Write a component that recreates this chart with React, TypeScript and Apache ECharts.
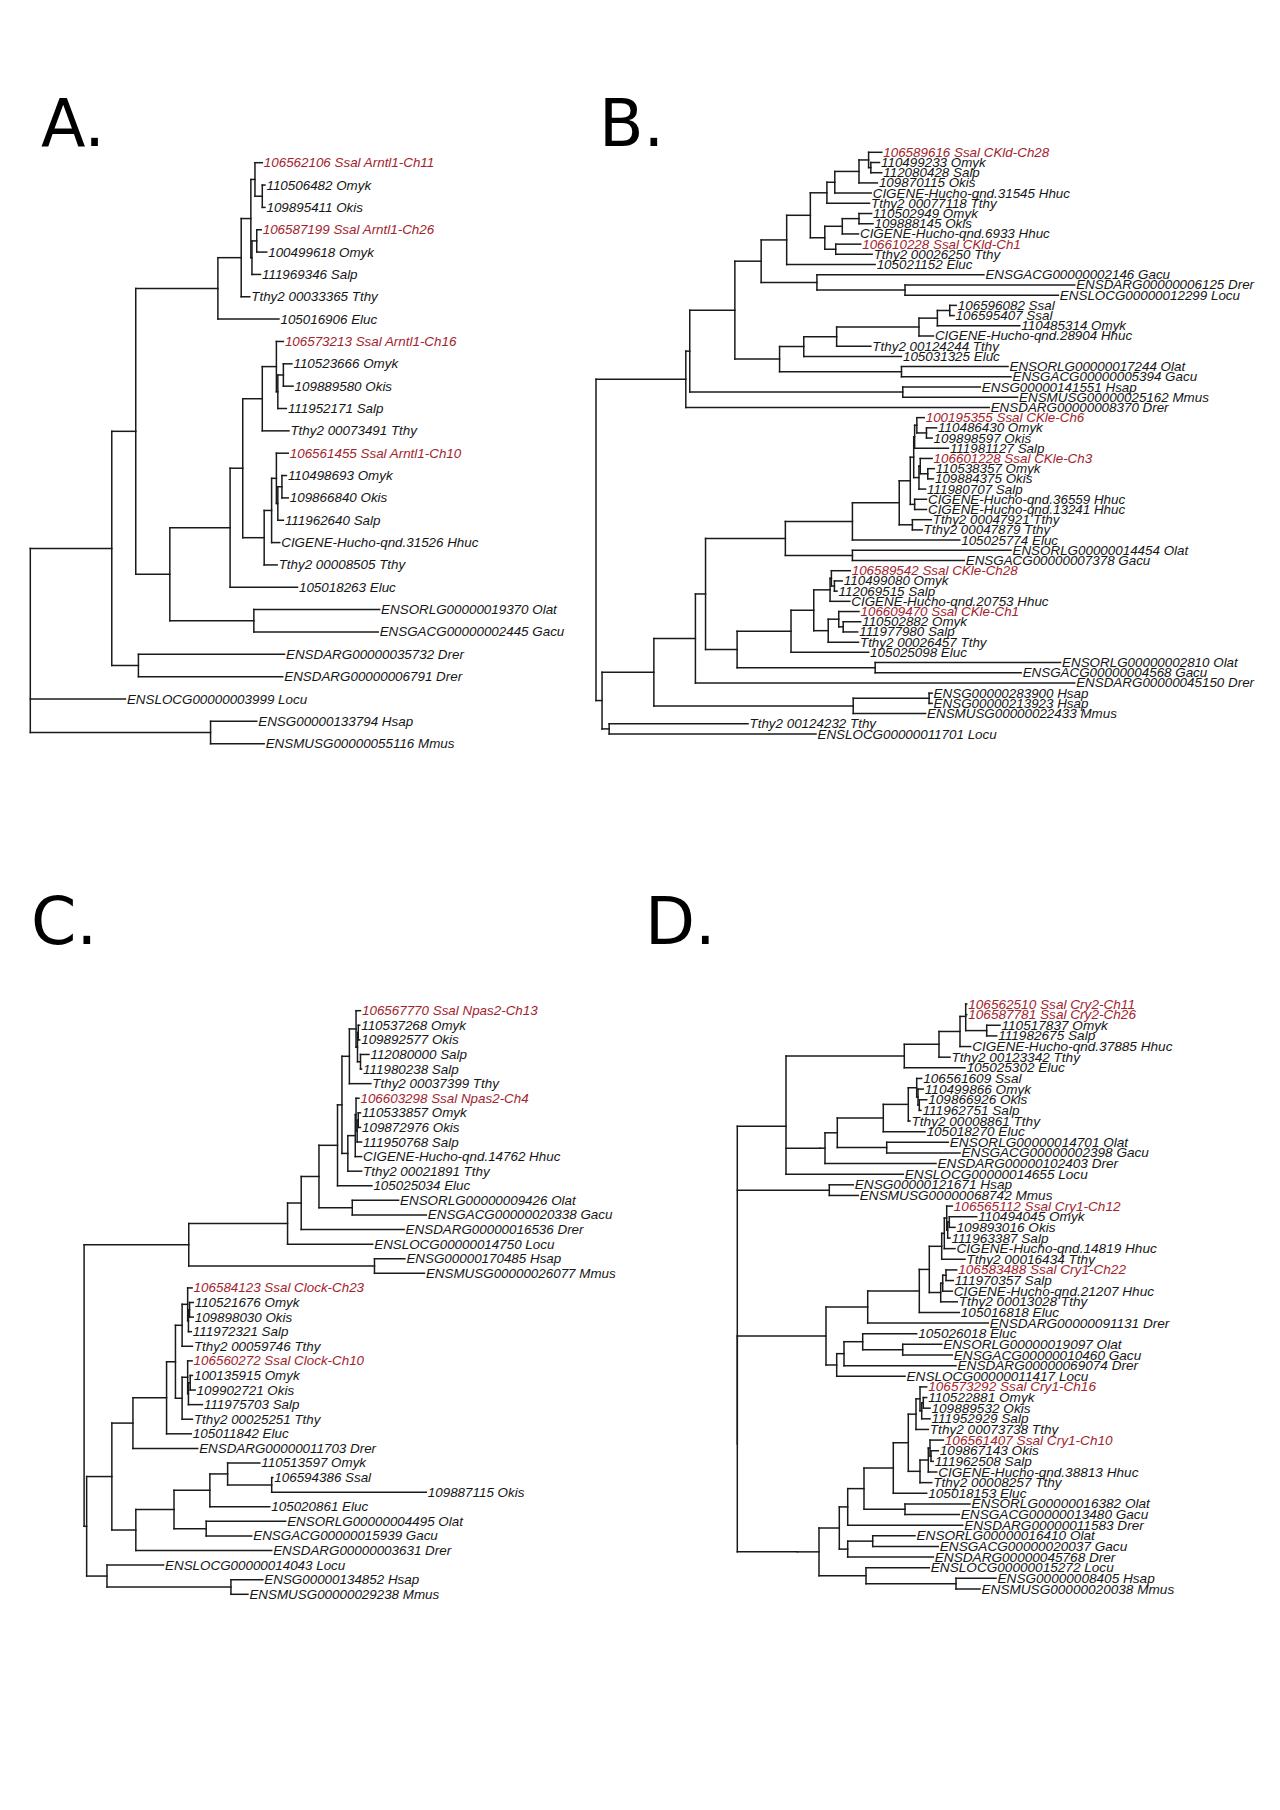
import React, { useEffect, useRef } from "react";
import * as echarts from "echarts";

// Trees in Newick-like notation. The number after ":" is the node depth
// (distance from the root of its tree), not the branch length.

// ---------- Tree A (Arntl1) ----------
const A_A1 = "(106562106 Ssal Arntl1-Ch11:2.090,(110506482 Omyk:2.114,109895411 Okis:2.114):2.090):2.024";
const A_A2 = "((106587199 Ssal Arntl1-Ch26:2.080,100499618 Omyk:2.130):2.040,111969346 Salp:2.074):1.997";
const A_P = `(((${A_A1},${A_A2}):1.987,Tthy2 00033365 Tthy:1.977):1.900,105016906 Eluc:2.240):1.690`;
const A_T = "((106573213 Ssal Arntl1-Ch16:2.280,((110523666 Omyk:2.357,109889580 Okis:2.367):2.280,111952171 Salp:2.307):2.230):2.217,Tthy2 00073491 Tthy:2.330):2.090";
const A_U = "(((106561455 Ssal Arntl1-Ch10:2.324,((110498693 Omyk:2.307,109866840 Okis:2.324):2.267,111962640 Salp:2.280):2.230):2.217,CIGENE-Hucho-qnd.31526 Hhuc:2.247):2.174,Tthy2 00008505 Tthy:2.224):2.107";
const A_Q = `(((${A_T},${A_U}):1.914,105018263 Eluc:2.407):1.800,(ENSORLG00000019370 Olat:3.147,ENSGACG00000002445 Gacu:3.134):2.014):1.257`;
const TREE_A = `((((${A_P},${A_Q}):0.950,(ENSDARG00000035732 Drer:2.290,ENSDARG00000006791 Drer:2.274):0.974):0.734,ENSLOCG00000003999 Locu:0.857,(ENSG00000133794 Hsap:2.040,ENSMUSG00000055116 Mmus:2.107):1.624):0`;

// ---------- Tree B (CK1 delta / epsilon) ----------
const B_a4 = "((((106589616 Ssal CKld-Ch28:2.173,(110499233 Omyk:2.156,112080428 Salp:2.173):2.090):2.073,109870115 Okis:2.140):2.000,CIGENE-Hucho-qnd.31545 Hhuc:2.093):1.816,Tthy2 00077118 Tthy:2.080):1.756";
const B_b4 = "(((110502949 Omyk:2.096,109888145 Okis:2.106):2.000,CIGENE-Hucho-qnd.6933 Hhuc:1.996):1.873,(106610228 Ssal CKld-Ch1:2.013,Tthy2 00026250 Tthy:2.100):1.823):1.740";
const B_c3 = `(((${B_a4},${B_b4}):1.630,105021152 Eluc:2.123):1.450,(ENSGACG00000002146 Gacu:2.950,(ENSDARG00000006125 Drer:3.640,ENSLOCG00000012299 Locu:3.516):2.350):1.680):1.256`;
const B_d6 = "((((((106596082 Ssal:2.740,106595407 Ssal:2.723):2.690,110485314 Omyk:3.223):2.596,CIGENE-Hucho-qnd.28904 Hhuc:2.566):2.456,Tthy2 00124244 Tthy:2.090):1.830,105031325 Eluc:2.323):1.580,(ENSORLG00000017244 Olat:3.133,ENSGACG00000005394 Gacu:3.156):2.323):1.396";
const B_U0 = `(((${B_c3},${B_d6}):1.056,(ENSG00000141551 Hsap:2.923,ENSMUSG00000025162 Mmus:3.206):2.333):0.713,ENSDARG00000008370 Drer:2.990):0.683`;
const B_m3 = "((100195355 Ssal CKle-Ch6:2.496,(110486430 Omyk:2.590,109898597 Okis:2.556):2.513):2.440,111981127 Salp:2.680):2.423";
const B_n3 = "((106601228 Ssal CKle-Ch3:2.556,(110538357 Omyk:2.573,109884375 Okis:2.566):2.523):2.466,111980707 Salp:2.506):2.456";
const B_g = `((((((${B_m3},${B_n3}):2.416,(CIGENE-Hucho-qnd.36559 Hhuc:2.513,CIGENE-Hucho-qnd.13241 Hhuc:2.513):2.423):2.390,(Tthy2 00047921 Tthy:2.550,Tthy2 00047879 Tthy:2.480):2.406):2.306,105025774 Eluc:2.766):1.950,(ENSORLG00000014454 Olat:3.156,ENSGACG00000007378 Gacu:2.800):1.950):1.440`;
const B_i3 = "((106589542 Ssal CKle-Ch28:1.933,(110499080 Omyk:1.873,112069515 Salp:1.833):1.813):1.790,CIGENE-Hucho-qnd.20753 Hhuc:1.930):1.780";
const B_j3 = "((106609470 Ssal CKle-Ch1:2.000,(110502882 Omyk:2.013,111977980 Salp:1.990):1.880):1.846,Tthy2 00026457 Tthy:1.996):1.766";
const B_h = `(((${B_i3},${B_j3}):1.656,105025098 Eluc:2.073):1.483,(ENSORLG00000002810 Olat:3.533,ENSGACG00000004568 Gacu:3.233):2.123):1.073`;
const B_L0 = `((((${B_g},${B_h}):0.833,ENSDARG00000045150 Drer:3.640):0.756,((ENSG00000283900 Hsap:2.556,ENSG00000213923 Hsap:2.556):2.533,ENSMUSG00000022433 Mmus:2.506):1.956):0.440,(Tthy2 00124232 Tthy:1.156,ENSLOCG00000011701 Locu:1.673):0.100):0.046`;
const TREE_B = `(${B_U0},${B_L0}):0`;

// ---------- Tree C (Npas2 / Clock) ----------
const C_n5 = "((106567770 Ssal Npas2-Ch13:2.490,((110537268 Omyk:2.483,109892577 Okis:2.483):2.470,(112080000 Salp:2.566,111980238 Salp:2.500):2.490):2.463):2.450,Tthy2 00037399 Tthy:2.583):2.390";
const C_n6 = "(((106603298 Ssal Npas2-Ch4:2.476,((110533857 Omyk:2.490,109872976 Okis:2.490):2.470,111950768 Salp:2.500):2.460):2.450,CIGENE-Hucho-qnd.14762 Hhuc:2.500):2.443,Tthy2 00021891 Tthy:2.500):2.376";
const C_up = `(((((${C_n5},${C_n6}):2.323,105025034 Eluc:2.593):2.283,(ENSORLG00000009426 Olat:2.833,ENSGACG00000020338 Gacu:3.083):2.416):2.116,ENSDARG00000016536 Drer:2.883):1.956,ENSLOCG00000014750 Locu:2.600):1.833`;
const C_top = `(${C_up},(ENSG00000170485 Hsap:2.890,ENSMUSG00000026077 Mmus:3.066):2.616):0.943`;
const C_k3 = "((106584123 Ssal Clock-Ch23:0.973,((110521676 Omyk:0.983,109898030 Okis:0.983):0.950,111972321 Salp:0.966):0.940):0.933,Tthy2 00059746 Tthy:0.976):0.883";
const C_k4 = "((106560272 Ssal Clock-Ch10:0.973,((100135915 Omyk:0.976,109902721 Okis:1.000):0.956,111975703 Salp:1.066):0.940):0.933,Tthy2 00025251 Tthy:0.976):0.883";
const C_k0 = `(((${C_k3},${C_k4}):0.823,105011842 Eluc:0.966):0.743,ENSDARG00000011703 Drer:1.023):0.440`;
const C_lo = "((((110513597 Omyk:1.583,(106594386 Ssal:1.700,109887115 Okis:3.083):1.690):1.293,105020861 Eluc:1.673):1.133,(ENSORLG00000004495 Olat:1.816,ENSGACG00000015939 Gacu:1.510):1.100):0.810,ENSDARG00000003631 Drer:1.690):0.466";
const C_low = `((${C_k0},${C_lo}):0.250,(ENSLOCG00000014043 Locu:0.716,(ENSG00000134852 Hsap:1.610,ENSMUSG00000029238 Mmus:1.476):1.323):0.206):0.023`;
const TREE_C = `(${C_top},${C_low}):0`;

// ---------- Tree D (Cry1 / Cry2) ----------
const D_e5 = "((((106562510 Ssal Cry2-Ch11:2.294,106587781 Ssal Cry2-Ch26:2.294,(110517837 Omyk:2.627,111982675 Salp:2.594):2.494):2.284,CIGENE-Hucho-qnd.37885 Hhuc:2.334):2.227,Tthy2 00123342 Tthy:2.127):2.017,105025302 Eluc:2.277):1.670";
const D_f5 = "((((((106561609 Ssal:1.844,(110499866 Omyk:1.860,(109866926 Okis:1.894,111962751 Salp:1.837):1.820):1.807):1.794,Tthy2 00008861 Tthy:1.727):1.710,105018270 Eluc:1.877):1.460,(ENSORLG00000014701 Olat:2.110,ENSGACG00000002398 Gacu:2.227):1.494):1.000,ENSDARG00000102403 Drer:1.987):0.877";
const D_up = `((${D_e5},${D_f5}):0.827,ENSLOCG00000014655 Locu:1.660):0.487`;
const D_hm = "(ENSG00000121671 Hsap:1.160,ENSMUSG00000068742 Mmus:1.210):0.920";
const D_g1c = "(((106565112 Ssal Cry1-Ch12:2.150,((110494045 Omyk:2.394,109893016 Okis:2.177):2.120,111963387 Salp:2.127):2.104):2.094,CIGENE-Hucho-qnd.14819 Hhuc:2.177):2.070,Tthy2 00016434 Tthy:2.277):2.044";
const D_g1d = "(((106583488 Ssal Cry1-Ch22:2.194,111970357 Salp:2.160):2.087,CIGENE-Hucho-qnd.21207 Hhuc:2.150):2.054,Tthy2 00013028 Tthy:2.200):2.034";
const D_g = `((((${D_g1c},${D_g1d}):1.920,105016818 Eluc:2.220):1.820,ENSDARG00000091131 Drer:2.510):1.304,(((105026018 Eluc:1.794,(ENSORLG00000019097 Olat:2.044,ENSGACG00000010460 Gacu:2.150):1.654):1.254,ENSDARG00000069074 Drer:2.187):1.067,ENSLOCG00000011417 Locu:1.677):0.994):0.887`;
const D_h8 = "((106573292 Ssal Cry1-Ch16:1.894,((110522881 Omyk:1.894,109889532 Okis:1.927):1.860,111952929 Salp:1.927):1.844):1.827,Tthy2 00073738 Tthy:1.910):1.787";
const D_h9 = "(((106561407 Ssal Cry1-Ch10:2.060,(109867143 Okis:2.010,111962508 Salp:1.960):1.937):1.927,CIGENE-Hucho-qnd.38813 Hhuc:1.994):1.910,Tthy2 00008257 Tthy:1.944):1.827";
const D_h3 = `(((((${D_h8},${D_h9}):1.710,105018153 Eluc:1.894):1.560,(ENSORLG00000016382 Olat:2.327,ENSGACG00000013480 Gacu:2.220):1.677):1.267,ENSDARG00000011583 Drer:2.254):1.104`;
const D_h4 = "((ENSORLG00000016410 Olat:1.777,ENSGACG00000020037 Gacu:2.010):1.354,ENSDARG00000045768 Drer:1.960):1.104";
const D_h = `((${D_h3},${D_h4}):1.020,(ENSLOCG00000015272 Locu:1.920,(ENSG00000008405 Hsap:2.587,ENSMUSG00000020038 Mmus:2.427):2.187):1.287):0.817`;
const TREE_D = `(${D_up},${D_hm},(${D_g},${D_h}):0.600):0`;

const TREES = [TREE_A, TREE_B, TREE_C, TREE_D];
const PANEL_LETTERS = ["A.", "B.", "C.", "D."];
const AXIS_MAX = 4; // distance units spanned by each panel's x axis

// ---------- layout (pixels / styles, not data) ----------
const PANELS = [
  { rootX: 30.3, width: 444, top: 162.7, bottom: 743.7, font: 13.4, lx: 41, ly: 123.5 },
  { rootX: 596, width: 526, top: 152.3, bottom: 734.0, font: 13.4, lx: 599, ly: 123.5 },
  { rootX: 84.1, width: 444, top: 1010.7, bottom: 1594.3, font: 13.4, lx: 31, ly: 921.5 },
  { rootX: 737.3, width: 400, top: 1004.0, bottom: 1589.0, font: 13.6, lx: 645, ly: 921.5 },
];

type TNode = { name: string; d: number; children: TNode[]; y: number };

function parseTree(src: string): TNode {
  const s = src.trim();
  let i = 0;
  const node = (): TNode => {
    const n: TNode = { name: "", d: 0, children: [], y: 0 };
    if (s[i] === "(") {
      i++;
      n.children.push(node());
      while (s[i] === ",") {
        i++;
        n.children.push(node());
      }
      i++;
    }
    const st = i;
    while (i < s.length && ":,();".indexOf(s[i]) < 0) i++;
    n.name = s.slice(st, i).trim();
    if (s[i] === ":") {
      i++;
      const s2 = i;
      while (i < s.length && /[0-9.eE+\-]/.test(s[i])) i++;
      n.d = parseFloat(s.slice(s2, i));
    }
    return n;
  };
  return node();
}

function layoutTree(root: TNode) {
  const leaves: TNode[] = [];
  const segs: number[][] = [];
  const walk = (n: TNode) => {
    if (!n.children.length) {
      n.y = leaves.length;
      leaves.push(n);
      return;
    }
    n.children.forEach(walk);
    const ys = n.children.map((c) => c.y);
    n.y = ys.reduce((a, b) => a + b, 0) / ys.length;
    segs.push([n.d, ys[0], n.d, ys[ys.length - 1]]);
    n.children.forEach((c) => segs.push([n.d, c.y, c.d, c.y]));
  };
  walk(root);
  return { leaves, segs };
}

const HIGHLIGHT = /Ssal .*-Ch\d+$/;

export default function App() {
  const ref = useRef<HTMLDivElement>(null);
  useEffect(() => {
    if (!ref.current) return;
    const chart = echarts.init(ref.current, undefined, { renderer: "svg" });
    const grids: any[] = [];
    const xAxes: any[] = [];
    const yAxes: any[] = [];
    const series: any[] = [];
    TREES.forEach((t, k) => {
      const P = PANELS[k];
      const { leaves, segs } = layoutTree(parseTree(t));
      const names = leaves.map((l) => l.name);
      grids.push({ left: P.rootX, top: P.top, width: P.width, height: P.bottom - P.top });
      xAxes.push({ type: "value", gridIndex: k, min: 0, max: AXIS_MAX, show: false });
      yAxes.push({ type: "value", gridIndex: k, min: 0, max: leaves.length - 1, inverse: true, show: false });
      series.push({
        type: "custom",
        xAxisIndex: k,
        yAxisIndex: k,
        silent: true,
        clip: false,
        data: segs,
        renderItem: (_p: any, api: any) => {
          const a = api.coord([api.value(0), api.value(1)]);
          const b = api.coord([api.value(2), api.value(3)]);
          return {
            type: "line",
            shape: { x1: a[0], y1: a[1], x2: b[0], y2: b[1] },
            style: { stroke: "#1a1a1a", lineWidth: 1.5, lineCap: "square" },
          };
        },
      });
      series.push({
        type: "custom",
        xAxisIndex: k,
        yAxisIndex: k,
        silent: true,
        clip: false,
        data: leaves.map((l, i) => [l.d, l.y, i]),
        renderItem: (_p: any, api: any) => {
          const p = api.coord([api.value(0), api.value(1)]);
          const name = names[api.value(2) as number];
          return {
            type: "text",
            x: p[0] + 1.5,
            y: p[1],
            style: {
              text: name,
              fill: HIGHLIGHT.test(name) ? "#a3232d" : "#151515",
              fontSize: P.font,
              fontStyle: "italic",
              fontFamily: '"Liberation Sans", Arial, sans-serif',
              align: "left",
              verticalAlign: "middle",
            },
          };
        },
      });
    });
    chart.setOption({
      animation: false,
      backgroundColor: "#ffffff",
      grid: grids,
      xAxis: xAxes,
      yAxis: yAxes,
      series,
      graphic: PANEL_LETTERS.map((txt, k) => ({
        type: "text",
        x: PANELS[k].lx,
        y: PANELS[k].ly,
        style: {
          text: txt,
          fill: "#000",
          fontSize: 65,
          fontFamily: '"DejaVu Sans", sans-serif',
          align: "left",
          verticalAlign: "middle",
        },
      })),
    });
    return () => chart.dispose();
  }, []);
  return (
    <div
      ref={ref}
      style={{ position: "absolute", left: 0, top: 0, width: 1280, height: 1810, background: "#fff" }}
    />
  );
}
